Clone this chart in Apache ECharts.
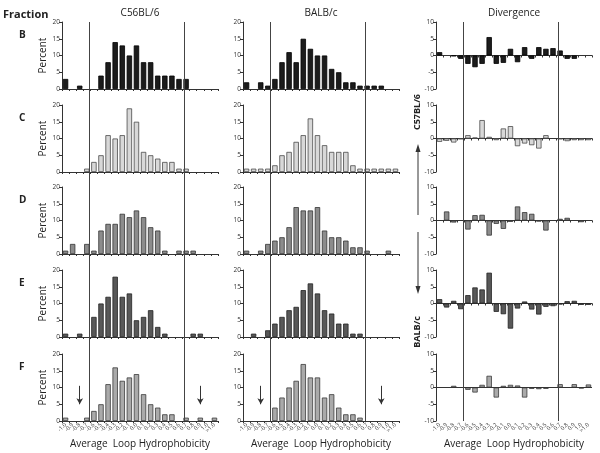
<!DOCTYPE html>
<html><head><meta charset="utf-8">
<script src="https://cdn.jsdelivr.net/npm/echarts/dist/echarts.min.js"></script>
<style>html,body{margin:0;padding:0;background:#fff}#c{width:600px;height:453px}</style>
</head><body><div id="c"></div>
<script>
// ---- data ----
const categories = ['-1.0','-0.9','-0.8','-0.7','-0.6','-0.5','-0.4','-0.3','-0.2','-0.1','0.0','0.1','0.2','0.3','0.4','0.5','0.6','0.7','0.8','0.9','1.0','>1.0'];
const fractions = ['B','C','D','E','F'];
const columnTitles = ['C56BL/6','BALB/c','Divergence'];
const percentTicks = {min:0, max:20, interval:5};
const divergenceTicks = {min:-10, max:10, interval:5};

const c56B = [3,0,1,0,0,4,8,14,13,10,13,8,8,4,4,4,3,3,0,0,0,0];
const c56C = [0,0,0,1,3,5,11,10,11,19,15,6,5,4,3,3,1,1,0,0,0,0];
const c56D = [1,3,0,3,1,7,9,9,12,11,13,11,8,7,1,0,1,1,1,0,0,0];
const c56E = [1,0,1,0,6,10,12,18,12,13,5,6,8,3,1,0,0,0,1,1,0,0];
const c56F = [1,0,0,1,3,5,11,16,12,13,14,8,5,4,2,2,0,1,0,1,0,1];

const balbB = [2,0,2,1,3,8,11,8,15,12,10,10,6,5,2,2,1,1,1,1,0,0];
const balbC = [1,1,1,1,2,5,6,9,11,16,11,8,6,6,6,2,1,1,1,1,1,1];
const balbD = [1,0,1,3,4,5,8,14,13,13,14,7,5,5,4,2,2,1,0,0,1,0];
const balbE = [0,1,0,2,4,6,8,9,14,16,13,8,7,4,4,1,1,0,0,0,0,0];
const balbF = [0,0,0,0,4,7,10,12,17,13,13,7,8,4,2,2,1,0,0,0,0,0];

const divB = [1,0,-0.2,-1,-2.5,-3.5,-2.5,5.5,-2.5,-2.2,2,-2,2.5,-1,2.5,2,2.2,1.5,-1,-1,0,0];
const divC = [-1,-0.7,-1.2,-0.2,1,0.3,5.5,0.5,-0.5,3,3.7,-2.3,-1.5,-2,-3,1,0,-0.2,-0.8,-0.5,-0.5,-0.5];
const divD = [0,2.7,-0.6,0,-2.7,1.6,1.7,-4.5,-1,-2.5,-0.4,4.2,2.5,2,-0.3,-3,0,0.5,0.8,0,-0.5,0];
const divE = [1.3,-1.2,0.8,-1.7,2.5,4.8,4.2,9.2,-2.5,-3.2,-7.5,-1.5,0.6,-1.8,-3.3,-1,-0.8,-0.3,0.7,0.8,-0.4,-0.4];
const divF = [0,0,0.5,0,-0.7,-1.5,0.8,3.5,-3,0.5,0.8,0.6,-3,-0.4,-0.5,-0.4,0,1,0,1,-0.3,0.9];

// reference lines (category-index units) and F arrows (category index, from value, to value)
const refLines = [3.9, 17.2];
const arrowCats = [2, 19];
const arrowFromTo = [10.5, 5];

// ---- styling / layout ----
const FONT = 'Open Sans';
const fills = ['#1c1c1c','#d8d8d8','#8c8c8c','#585858','#aaaaaa'];
const borders = ['#000000','#4a4a4a','#333333','#222222','#3a3a3a'];
const colLeft = [62, 243, 436];
const colWidth = 156;
const rowTop = [22, 105, 187, 270, 354];
const rowH = 67;
const axisColor = '#333';

const table = [
  [c56B, balbB, divB],
  [c56C, balbC, divC],
  [c56D, balbD, divD],
  [c56E, balbE, divE],
  [c56F, balbF, divF]
];

const grids = [], xAxes = [], yAxes = [], series = [];
for (let r = 0; r < 5; r++) {
  for (let c = 0; c < 3; c++) {
    const gi = grids.length;
    const isDiv = c === 2, isBottom = r === 4;
    grids.push({left: colLeft[c], top: rowTop[r], width: colWidth, height: rowH, containLabel: false, outerBoundsMode: 'none'});
    xAxes.push({
      gridIndex: gi, type: 'category', data: categories,
      axisLine: {show: !(isDiv && isBottom), onZero: isDiv && !isBottom, lineStyle: {color: axisColor, width: 1}},
      axisTick: {show: !(isDiv && isBottom), length: 2, lineStyle: {color: axisColor}},
      axisLabel: {show: isBottom, interval: 0, rotate: 45, fontSize: 5.5, color: '#333', fontFamily: FONT, margin: 3},
      name: isBottom ? 'Average  Loop Hydrophobicity' : '',
      nameLocation: 'middle', nameGap: 18,
      nameTextStyle: {fontSize: 10, color: '#222', fontFamily: FONT},
      splitLine: {show: false}
    });
    const t = isDiv ? divergenceTicks : percentTicks;
    yAxes.push({
      gridIndex: gi, type: 'value', min: t.min, max: t.max, interval: t.interval,
      axisLine: {show: true, lineStyle: {color: axisColor, width: 1}},
      axisTick: {show: true, length: 3, lineStyle: {color: axisColor}},
      axisLabel: {fontSize: 6.5, color: '#333', fontFamily: FONT, margin: 2},
      splitLine: {show: false},
      name: c === 0 ? 'Percent' : '', nameLocation: 'middle', nameGap: 14, nameRotate: 90,
      nameTextStyle: {fontSize: 10, color: '#222', fontFamily: FONT}
    });
    const s = {
      type: 'bar', xAxisIndex: gi, yAxisIndex: gi,
      data: table[r][c].map(v => v === 0 ? '-' : v),
      barWidth: '76%',
      itemStyle: {color: fills[r], borderColor: borders[r], borderWidth: 0.8},
      silent: true, animation: false
    };
    if (isDiv && isBottom) {
      s.markLine = {silent: true, symbol: ['none','none'], label: {show: false},
        lineStyle: {color: axisColor, width: 1, type: 'solid'}, data: [{yAxis: 0}]};
    }
    if (isBottom && !isDiv) {
      s.markLine = {silent: true, symbol: ['none','arrow'], symbolSize: [5, 6], label: {show: false},
        lineStyle: {color: '#333', width: 1, type: 'solid'},
        data: arrowCats.map(ci => [{coord: [ci, arrowFromTo[0]]}, {coord: [ci, arrowFromTo[1]]}])};
    }
    series.push(s);
  }
}
// full-height overlays for the vertical reference lines
for (let c = 0; c < 3; c++) {
  const gi = grids.length;
  grids.push({left: colLeft[c], top: rowTop[0], width: colWidth, height: rowTop[4] + rowH - rowTop[0], containLabel: false, outerBoundsMode: 'none'});
  xAxes.push({gridIndex: gi, type: 'value', min: 0, max: categories.length, show: false});
  yAxes.push({gridIndex: gi, type: 'value', min: 0, max: 1, show: false});
  series.push({type: 'lines', coordinateSystem: 'cartesian2d', xAxisIndex: gi, yAxisIndex: gi, z: 10, silent: true,
    lineStyle: {color: '#444', width: 1, opacity: 1},
    data: refLines.map(x => ({coords: [[x, 0], [x, 1]]}))});
}

const titles = columnTitles.map((t, c) => ({
  text: t, left: colLeft[c] + colWidth / 2 - 5, top: 3, textAlign: 'center',
  textStyle: {fontSize: 10, fontWeight: 'normal', color: '#222', fontFamily: FONT}
}));

const graphic = [
  {type: 'text', left: 3, top: 9, style: {text: 'Fraction', font: 'bold 11px ' + FONT, fill: '#222'}}
];
fractions.forEach((f, r) => graphic.push({type: 'text', left: 19, top: rowTop[r] + 8,
  style: {text: f, font: 'bold 10px ' + FONT, fill: '#222'}}));
graphic.push({type: 'text', x: 417, y: 112, rotation: Math.PI / 2, style: {text: 'C57BL/6', font: 'bold 9px ' + FONT, fill: '#222', align: 'center', verticalAlign: 'middle'}});
graphic.push({type: 'text', x: 417, y: 332, rotation: Math.PI / 2, style: {text: 'BALB/c', font: 'bold 9px ' + FONT, fill: '#222', align: 'center', verticalAlign: 'middle'}});
graphic.push({type: 'line', shape: {x1: 418, y1: 215, x2: 418, y2: 150}, style: {stroke: '#333', lineWidth: 1}});
graphic.push({type: 'polygon', shape: {points: [[415.5, 152], [420.5, 152], [418, 144]]}, style: {fill: '#333'}});
graphic.push({type: 'line', shape: {x1: 418, y1: 232, x2: 418, y2: 288}, style: {stroke: '#333', lineWidth: 1}});
graphic.push({type: 'polygon', shape: {points: [[415.5, 286], [420.5, 286], [418, 294]]}, style: {fill: '#333'}});

const chart = echarts.init(document.getElementById('c'), null, {renderer: 'canvas', width: 600, height: 453});
chart.setOption({
  animation: false,
  backgroundColor: '#fff',
  textStyle: {fontFamily: FONT},
  title: titles,
  grid: grids, xAxis: xAxes, yAxis: yAxes, series: series,
  graphic: graphic
});
</script></body></html>
